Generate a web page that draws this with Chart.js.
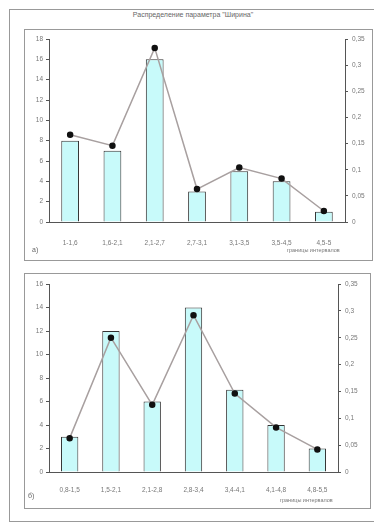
<!DOCTYPE html>
<html>
<head>
<meta charset="utf-8">
<script src="https://cdn.jsdelivr.net/npm/chart.js@4.4.1/dist/chart.umd.min.js"></script>
<style>
  body { margin: 0; background: #fff; font-family: "Liberation Sans", Arial, sans-serif; }
  #frame { position: absolute; left: 9px; top: 9px; width: 364px; height: 511px; border: 1px solid #999; border-right: none; }
  .box { position: absolute; border: 1px solid #999; background: #fff; }
  .txt { position: absolute; color: #777; white-space: nowrap; }
  canvas { position: absolute; left: 0; top: 0; }
</style>
</head>
<body>
<div id="frame"></div>
<div class="txt" style="left:0;width:386px;top:11px;text-align:center;font-size:7px;color:#666;">Распределение параметра "Ширина"</div>

<div class="box" style="left:24px;top:29px;width:347px;height:230px;">
  <canvas id="chartA" width="346" height="229"></canvas>
  <div class="txt" style="left:7px;top:216px;font-size:7px;color:#666;">а)</div>
  <div class="txt" style="left:262px;top:217px;font-size:5.5px;">границы интервалов</div>
</div>

<div class="box" style="left:24px;top:273px;width:345px;height:234px;">
  <canvas id="chartB" width="344" height="233"></canvas>
  <div class="txt" style="left:3px;top:218px;font-size:7px;color:#666;">б)</div>
  <div class="txt" style="left:255px;top:223px;font-size:5.5px;">границы интервалов</div>
</div>

<script>
// chart а)
const intervalsA = ["1-1,6", "1,6-2,1", "2,1-2,7", "2,7-3,1", "3,1-3,5", "3,5-4,5", "4,5-5"];
const countsA = [8, 7, 16, 3, 5, 4, 1];
const freqA = [0.167, 0.146, 0.333, 0.063, 0.104, 0.083, 0.021];

// chart б)
const intervalsB = ["0,8-1,5", "1,5-2,1", "2,1-2,8", "2,8-3,4", "3,4-4,1", "4,1-4,8", "4,8-5,5"];
const countsB = [3, 12, 6, 14, 7, 4, 2];
const freqB = [0.063, 0.25, 0.125, 0.292, 0.146, 0.083, 0.042];

const leftMaxA = 18, leftMaxB = 16, rightMax = 0.35;

const tickFont = { family: "Liberation Sans", size: 6.5 };
const comma = (v) => parseFloat(Number(v).toFixed(2)).toString().replace(".", ",");

function makeChart(id, labels, counts, freq, leftMax, dims) {
    const ctx = document.getElementById(id).getContext("2d");
    return new Chart(ctx, {
        data: {
            labels: labels,
            datasets: [
                {
                    type: "line",
                    data: freq,
                    yAxisID: "y1",
                    borderColor: "#a8a0a0",
                    borderWidth: 1.5,
                    pointStyle: "circle",
                    pointRadius: 2.5,
                    pointBackgroundColor: "#111",
                    pointBorderColor: "#111",
                    tension: 0,
                    order: 0
                },
                {
                    type: "bar",
                    data: counts,
                    yAxisID: "y",
                    backgroundColor: "#c8fafa",
                    borderColor: "#333",
                    borderWidth: 1,
                    categoryPercentage: 1,
                    barPercentage: 0.42,
                    order: 1
                }
            ]
        },
        options: {
            responsive: false,
            animation: false,
            layout: { padding: { left: 0, right: 0, top: dims.top, bottom: 0 } },
            plugins: { legend: { display: false }, tooltip: { enabled: false } },
            scales: {
                x: {
                    grid: { display: false },
                    border: { color: "#555", width: 1 },
                    ticks: { font: tickFont, color: "#777", padding: dims.xPad, maxRotation: 0, autoSkip: false },
                    afterFit: (s) => { s.height = dims.xHeight; }
                },
                y: {
                    position: "left",
                    min: 0, max: leftMax,
                    ticks: { stepSize: 2, font: tickFont, color: "#777", padding: 3 },
                    grid: { drawOnChartArea: false, tickLength: 3, color: "#555" },
                    border: { color: "#555", width: 1 },
                    afterFit: (s) => { s.width = 24; }
                },
                y1: {
                    position: "right",
                    min: 0, max: rightMax,
                    ticks: { stepSize: 0.05, font: tickFont, color: "#777", padding: 4, callback: comma },
                    grid: { drawOnChartArea: false, tickLength: 3, color: "#555" },
                    border: { color: "#555", width: 1 },
                    afterFit: (s) => { s.width = dims.rightW; }
                }
            }
        }
    });
}

makeChart("chartA", intervalsA, countsA, freqA, leftMaxA, { top: 9, xHeight: 37, xPad: 9, rightW: 26 });
makeChart("chartB", intervalsB, countsB, freqB, leftMaxB, { top: 10, xHeight: 35, xPad: 6, rightW: 31 });
</script>
</body>
</html>
